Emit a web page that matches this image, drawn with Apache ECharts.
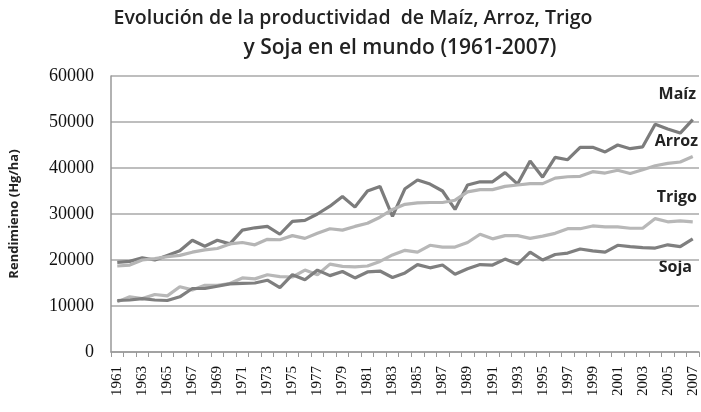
<!DOCTYPE html>
<html><head><meta charset="utf-8">
<script src="https://cdn.jsdelivr.net/npm/echarts@6/dist/echarts.min.js"></script>
<style>html,body{margin:0;padding:0;background:#fff}#c{width:701px;height:412px}</style>
</head><body><div id="c"></div>
<script>
var years = [];
for (var y = 1961; y <= 2007; y++) years.push(String(y));
var maiz = [19500,19700,20500,20000,21000,22000,24300,23000,24300,23500,26500,27000,27300,25600,28400,28600,30000,31700,33800,31500,35000,36000,29500,35500,37400,36500,35000,31000,36300,37000,37000,39000,36500,41500,38000,42300,41800,44500,44500,43500,45000,44200,44600,49500,48500,47600,50500];
var arroz = [18700,18900,20000,20300,20700,21000,21700,22200,22500,23500,23800,23300,24500,24400,25300,24700,25800,26800,26500,27300,28000,29300,31000,32100,32400,32500,32500,33000,34800,35300,35300,36000,36300,36600,36600,37800,38100,38200,39200,38900,39500,38800,39600,40500,41000,41300,42500];
var trigo = [10900,12000,11600,12500,12200,14200,13500,14500,14500,14900,16100,15900,16800,16400,16300,17800,16800,19100,18600,18500,18700,19700,21100,22100,21700,23200,22800,22800,23800,25600,24600,25300,25300,24700,25200,25800,26800,26800,27400,27200,27200,26900,26900,29000,28300,28500,28300];
var soja = [11200,11300,11600,11300,11200,12000,13800,13800,14300,14800,14900,15000,15600,14000,16800,15700,17800,16600,17500,16100,17400,17600,16200,17200,19000,18300,18900,16900,18100,19000,18900,20200,19100,21700,20000,21200,21500,22400,22000,21700,23200,22900,22700,22600,23300,22900,24600];
var seriesNames = ['Maíz','Arroz','Trigo','Soja'];
var yTicks = [0,10000,20000,30000,40000,50000,60000];

var chart = echarts.init(document.getElementById('c'));
function mk(name, data, color){
  return {name:name,type:'line',data:data,symbol:'none',smooth:false,
    lineStyle:{color:color,width:3.2},itemStyle:{color:color}};
}
var sansB = '"Open Sans", "DejaVu Sans", sans-serif';
var serif = '"Liberation Serif", "DejaVu Serif", serif';
chart.setOption({
  animation:false,
  grid:{left:108,right:2,top:76,bottom:60},
  xAxis:{type:'category',data:years,boundaryGap:true,
    axisLine:{lineStyle:{color:'#999',width:1.5}},
    axisTick:{show:true,interval:0,length:5,lineStyle:{color:'#999'}},
    axisLabel:{interval:1,rotate:90,fontFamily:serif,fontSize:15,color:'#111',margin:14}},
  yAxis:{type:'value',min:yTicks[0],max:yTicks[yTicks.length-1],interval:10000,
    name:'Rendimieno (Hg/ha)',nameLocation:'middle',nameGap:90,nameRotate:90,
    nameTextStyle:{fontFamily:sansB,fontWeight:'bold',fontSize:13,color:'#222'},
    axisLine:{show:true,lineStyle:{color:'#999',width:1.5}},
    axisTick:{show:false},
    axisLabel:{fontFamily:serif,fontSize:18,color:'#111',margin:17,formatter:function(v){return String(v);}},
    splitLine:{lineStyle:{color:'#a8a8a8',width:1.5}}},
  series:[mk(seriesNames[0],maiz,'#7c7c7c'),mk(seriesNames[1],arroz,'#b5b5b5'),mk(seriesNames[2],trigo,'#b8b8b8'),mk(seriesNames[3],soja,'#7f7f7f')],
  graphic:[
    {type:'text',style:{text:'Evolución de la productividad  de Maíz, Arroz, Trigo',font:'600 19.5px "Open Sans", sans-serif',fill:'#222',textAlign:'center',x:353,y:8}},
    {type:'text',style:{text:'y Soja en el mundo (1961-2007)',font:'600 21px "Open Sans", sans-serif',fill:'#222',textAlign:'center',x:400,y:38}},
    {type:'text',style:{text:seriesNames[0],font:'bold 16px "Open Sans", sans-serif',fill:'#222',textAlign:'right',x:696,y:86}},
    {type:'text',style:{text:seriesNames[1],font:'bold 16px "Open Sans", sans-serif',fill:'#222',textAlign:'right',x:698,y:133}},
    {type:'text',style:{text:seriesNames[2],font:'bold 16px "Open Sans", sans-serif',fill:'#222',textAlign:'right',x:697,y:189}},
    {type:'text',style:{text:seriesNames[3],font:'bold 16px "Open Sans", sans-serif',fill:'#222',textAlign:'right',x:692,y:259}}
  ]
});
</script></body></html>
